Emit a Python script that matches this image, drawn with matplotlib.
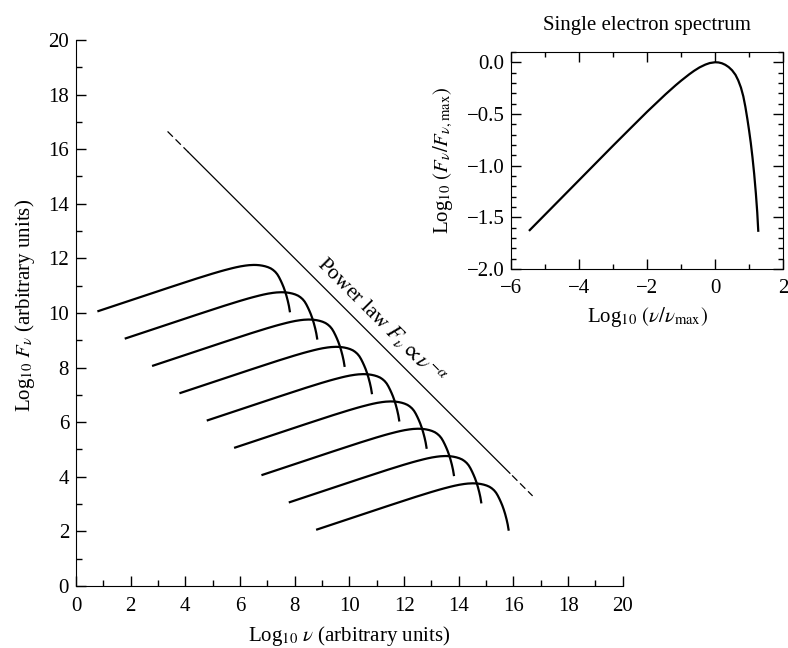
import numpy as np
import matplotlib.pyplot as plt
from matplotlib.ticker import MultipleLocator, FuncFormatter

plt.rcParams['font.family'] = ['Liberation Serif', 'DejaVu Serif']
plt.rcParams['mathtext.fontset'] = 'stix'
plt.rcParams['font.size'] = 15

# single electron spectrum: log10(nu/nu_max) vs log10(F/F_max)
spec_u = [-5.46, -5.0, -4.0, -3.0, -2.46, -2.0, -1.46, -1.16, -1.0, -0.76, -0.62,
          -0.46, -0.29, -0.16, 0.0, 0.1, 0.2, 0.3, 0.4, 0.5, 0.6, 0.68,
          0.76, 0.83, 0.89, 0.95, 1.00, 1.05, 1.10, 1.15, 1.20, 1.24, 1.27]
spec_f = [-1.624, -1.471, -1.138, -0.805, -0.628, -0.478, -0.310, -0.222, -0.178,
          -0.116, -0.083, -0.050, -0.023, -0.008, 0.0, -0.002, -0.010, -0.025,
          -0.047, -0.078, -0.122, -0.175, -0.245, -0.33, -0.43, -0.55, -0.66,
          -0.78, -0.92, -1.08, -1.27, -1.45, -1.63]

# peaks of the nine spectra in the main panel
peak_x = [6.5, 7.5, 8.5, 9.5, 10.5, 11.5, 12.5, 13.5, 14.5]
peak_y = [11.76, 10.76, 9.76, 8.76, 7.76, 6.76, 5.76, 4.76, 3.76]

# power law envelope (solid part and dashed ends)
pl_solid_x = [4.1, 15.87]
pl_solid_y = [15.9, 4.13]
pl_lo_x = [3.35, 4.1]
pl_lo_y = [16.65, 15.9]
pl_hi_x = [15.95, 16.7]
pl_hi_y = [4.05, 3.3]

fig = plt.figure(figsize=(7.88, 6.48), dpi=100)
ax = fig.add_axes([0.0964, 0.0957, 0.694, 0.8426])

u = np.array(spec_u)
f = np.array(spec_f)
for px, py in zip(peak_x, peak_y):
    ax.plot(px + 1.04 * u, py + 1.04 * f, color='black', lw=1.6)

ax.plot(pl_solid_x, pl_solid_y, color='black', lw=0.9)
ax.plot(pl_lo_x, pl_lo_y, color='black', lw=0.9, dashes=(6, 3))
ax.plot(pl_hi_x, pl_hi_y, color='black', lw=0.9, dashes=(6, 3))
ax.text(11.15, 9.73, r'Power law $F_\nu \propto \nu^{-\alpha}$', rotation=-45,
        ha='center', va='center', rotation_mode='anchor', fontsize=15.5)

ax.set_xlim(0, 20)
ax.set_ylim(0, 20)
ax.spines['top'].set_visible(False)
ax.spines['right'].set_visible(False)
ax.xaxis.set_major_locator(MultipleLocator(2))
ax.xaxis.set_minor_locator(MultipleLocator(1))
ax.yaxis.set_major_locator(MultipleLocator(2))
ax.yaxis.set_minor_locator(MultipleLocator(1))
ax.tick_params(which='both', direction='in', width=1)
ax.tick_params(which='major', length=7)
ax.tick_params(which='minor', length=4)
ax.tick_params(axis='y', which='major', pad=5)
ax.tick_params(axis='x', which='major', pad=8)
ax.set_xlabel(r'Log$_{10}$ $\nu$ (arbitrary units)', labelpad=6)
ax.set_ylabel(r'Log$_{10}$ $F_\nu$ (arbitrary units)')
ax.yaxis.set_label_coords(-0.071, 0.513)

ins = fig.add_axes([0.649, 0.5849, 0.3447, 0.335])
ins.plot(spec_u, spec_f, color='black', lw=1.6)
ins.set_xlim(-6, 2)
ins.set_ylim(-2.0, 0.1)
ins.xaxis.set_major_locator(MultipleLocator(2))
ins.xaxis.set_minor_locator(MultipleLocator(1))
ins.yaxis.set_major_locator(MultipleLocator(0.5))
ins.yaxis.set_minor_locator(MultipleLocator(0.1))
ins.yaxis.set_major_formatter(FuncFormatter(lambda v, p: f'{v:.1f}'.replace('-', '\u2212')))
ins.tick_params(which='both', direction='in', top=True, right=True, width=1)
ins.tick_params(which='major', length=7)
ins.tick_params(which='minor', length=3.5)
ins.tick_params(axis='y', which='major', pad=5)
ins.tick_params(axis='x', which='major', pad=7)
ins.set_xlabel(r'Log$_{10}$ $(\nu/\nu_{\rm max})$', labelpad=5)
ins.set_ylabel(r'Log$_{10}$ $(F_\nu/F_{\nu,{\rm max}})$', labelpad=8)
ins.set_title('Single electron spectrum', pad=16, fontsize=15)

fig.savefig('out.png', dpi=100)
